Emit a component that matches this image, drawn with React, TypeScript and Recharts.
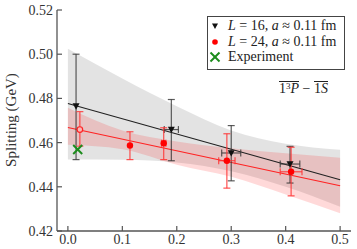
import React from "react";
import { ComposedChart, Area, Line, Scatter, ErrorBar, XAxis, YAxis, Legend, Label } from "recharts";

// fit bands (sampled at band x positions)
const bandX = [0, 0.1, 0.2, 0.3, 0.4, 0.5];
const grayLo = [0.4523, 0.4522, 0.451, 0.447, 0.44, 0.431];
const grayHi = [0.5025, 0.489, 0.4765, 0.4655, 0.4595, 0.4568];
const redLo = [0.459, 0.457, 0.45, 0.4445, 0.4365, 0.428];
const redHi = [0.4758, 0.4655, 0.4605, 0.4575, 0.4552, 0.4532];

// straight-line fits, end points
const fitX = [0, 0.5];
const fitL16 = [0.4777, 0.4432];
const fitL24 = [0.4668, 0.4405];

// L = 16 points
const l16X = [0.015, 0.19, 0.3, 0.408];
const l16Y = [0.4765, 0.4659, 0.4553, 0.4503];
const l16Dn = [0.0242, 0.0141, 0.0126, 0.0086];
const l16Up = [0.0235, 0.0136, 0.0124, 0.008];
const l16Xerr = [null, 0.013, 0.0175, 0.018];

// L = 24 points
const l24X = [0.022, 0.114, 0.176, 0.292, 0.41];
const l24Y = [0.4659, 0.4587, 0.4597, 0.4518, 0.4468];
const l24Dn = [0.0075, 0.0064, 0.0074, 0.0124, 0.0109];
const l24Up = [0.0081, 0.0062, 0.007, 0.0122, 0.0111];
const l24Xerr = [null, null, 0.004, 0.015, 0.02];

const expX = [0.018];
const expY = [0.4569];

const xTicks = [0, 0.1, 0.2, 0.3, 0.4, 0.5];
const yTicks = [0.42, 0.44, 0.46, 0.48, 0.5, 0.52];

const table = bandX.map((x, i) => {
  const k = fitX.indexOf(x);
  return {
    x,
    gray: [grayLo[i], grayHi[i]],
    red: [redLo[i], redHi[i]],
    f16: k >= 0 ? fitL16[k] : null,
    f24: k >= 0 ? fitL24[k] : null,
  };
});
const l16 = l16X.map((x, i) => ({ x, y: l16Y[i], ey: [l16Dn[i], l16Up[i]], ex: l16Xerr[i] ?? undefined }));
const l24 = l24X.map((x, i) => ({ x, y: l24Y[i], ey: [l24Dn[i], l24Up[i]], ex: l24Xerr[i] ?? undefined }));
const exp = expX.map((x, i) => ({ x, y: expY[i] }));

const serif = "Liberation Serif, serif";
const axisColor = "#555";
const txt = "#333";

const XTick = (p: any) => (
  <g>
    <line x1={p.x} y1={p.y} x2={p.x} y2={p.y - 5} stroke={axisColor} strokeWidth={1.2} />
    <text x={p.x} y={p.y + 13} textAnchor="middle" style={{ fontFamily: serif }} fontSize={14} fill={txt}>
      {p.payload.value.toFixed(1)}
    </text>
  </g>
);
const YTick = (p: any) => (
  <g>
    <line x1={p.x} y1={p.y} x2={p.x + 5} y2={p.y} stroke={axisColor} strokeWidth={1.2} />
    <text x={p.x - 4} y={p.y + 5} textAnchor="end" style={{ fontFamily: serif }} fontSize={14} fill={txt}>
      {p.payload.value.toFixed(2)}
    </text>
  </g>
);
const TopTick = (p: any) => <line x1={p.x} y1={p.y} x2={p.x} y2={p.y + 5} stroke={axisColor} strokeWidth={1.2} />;
const RightTick = (p: any) => <line x1={p.x} y1={p.y} x2={p.x - 5} y2={p.y} stroke={axisColor} strokeWidth={1.2} />;

const TriDown = ({ cx, cy, s = 3.5 }: any) => (
  <path d={`M${cx - s},${cy - s * 0.8}L${cx + s},${cy - s * 0.8}L${cx},${cy + s}Z`} fill="#111" />
);
const RedDot = (p: any) =>
  p.index === 0 ? (
    <circle cx={p.cx} cy={p.cy} r={2.8} fill="#f9b5b5" stroke="#f22" strokeWidth={1.2} />
  ) : (
    <circle cx={p.cx} cy={p.cy} r={3.2} fill="#f00" />
  );
const Cross = ({ cx, cy, s = 4.5 }: any) => (
  <g stroke="#1c8c1c" strokeWidth={2}>
    <line x1={cx - s} y1={cy - s} x2={cx + s} y2={cy + s} />
    <line x1={cx - s} y1={cy + s} x2={cx + s} y2={cy - s} />
  </g>
);

const rowStyle: React.CSSProperties = { position: "absolute", left: 0, height: 16, lineHeight: "16px", whiteSpace: "nowrap" };
const bar: React.CSSProperties = { display: "inline-block", borderTop: "1px solid #222", lineHeight: "11px", paddingTop: 1 };

function LegendBox() {
  return (
    <div style={{ position: "relative", width: 0, height: 0, fontFamily: serif, fontSize: 14, color: "#222" }}>
      <div style={{ position: "absolute", left: 207, top: 16, width: 136, height: 52, border: "1px solid #444", background: "#fff" }}>
        <div style={{ ...rowStyle, top: 1 }}>
          <svg width={20} height={16} style={{ verticalAlign: "top" }}><TriDown cx={7} cy={8} s={3} /></svg>
          <i>L</i> = 16, <i>a</i> ≈ 0.11 fm
        </div>
        <div style={{ ...rowStyle, top: 17 }}>
          <svg width={20} height={16} style={{ verticalAlign: "top" }}><circle cx={7} cy={8} r={2.8} fill="#f00" /></svg>
          <i>L</i> = 24, <i>a</i> ≈ 0.11 fm
        </div>
        <div style={{ ...rowStyle, top: 32 }}>
          <svg width={20} height={16} style={{ verticalAlign: "top" }}><Cross cx={7} cy={8} s={4.5} /></svg>
          Experiment
        </div>
      </div>
      <div style={{ position: "absolute", left: 279, top: 81, lineHeight: "12px", whiteSpace: "nowrap" }}>
        <span style={bar}>1<span style={{ fontSize: 9, position: "relative", top: -4 }}>3</span><i>P</i></span>
        <span style={{ display: "inline-block", lineHeight: "11px", paddingTop: 2 }}>&nbsp;−&nbsp;</span>
        <span style={bar}>1<i>S</i></span>
      </div>
    </div>
  );
}

export default function App() {
  return (
    <div style={{ position: "absolute", left: 0, top: 0 }}>
      <ComposedChart width={357} height={249} data={table} margin={{ top: 10, right: 6, bottom: 0, left: 0 }}>
        <XAxis dataKey="x" type="number" domain={[-0.02, 0.52]} ticks={xTicks} allowDataOverflow height={18}
          tickSize={0} tickMargin={0} tickLine={false} tick={<XTick />} axisLine={{ stroke: axisColor, strokeWidth: 1.3 }} />
        <XAxis xAxisId="top" orientation="top" dataKey="x" type="number" domain={[-0.02, 0.52]} ticks={xTicks} allowDataOverflow height={0}
          tickSize={0} tickMargin={0} tickLine={false} tick={<TopTick />} axisLine={{ stroke: axisColor, strokeWidth: 1.3 }} />
        <YAxis type="number" domain={[0.42, 0.52]} ticks={yTicks} allowDataOverflow width={57}
          tickSize={0} tickMargin={0} tickLine={false} tick={<YTick />} axisLine={{ stroke: axisColor, strokeWidth: 1.3 }}>
          <Label content={() => (
            <text x={11} y={120} transform="rotate(-90 11 120)" textAnchor="middle" dominantBaseline="central"
              style={{ fontFamily: serif }} fontSize={15} fill={txt}>Splitting (GeV)</text>
          )} />
        </YAxis>
        <YAxis yAxisId="right" orientation="right" type="number" domain={[0.42, 0.52]} ticks={yTicks} allowDataOverflow width={0}
          tickSize={0} tickMargin={0} tickLine={false} tick={<RightTick />} axisLine={{ stroke: axisColor, strokeWidth: 1.3 }} />

        <Area type="monotone" dataKey="gray" stroke="none" fill="#000" fillOpacity={0.11} isAnimationActive={false} />
        <Area type="monotone" dataKey="red" stroke="none" fill="#ff0000" fillOpacity={0.15} isAnimationActive={false} />
        <Line dataKey="f16" stroke="#222" strokeWidth={1.1} dot={false} connectNulls isAnimationActive={false} />
        <Line dataKey="f24" stroke="#f22" strokeWidth={1.1} dot={false} connectNulls isAnimationActive={false} />

        <Scatter data={l16} dataKey="y" shape={(p: any) => <TriDown cx={p.cx} cy={p.cy} />} isAnimationActive={false}>
          <ErrorBar dataKey="ey" direction="y" width={3.5} stroke="#333" strokeOpacity={0.8} strokeWidth={1.2} />
          <ErrorBar dataKey="ex" direction="x" width={3.5} stroke="#333" strokeOpacity={0.8} strokeWidth={1.2} />
        </Scatter>
        <Scatter data={l24} dataKey="y" shape={(p: any) => <RedDot {...p} />} isAnimationActive={false}>
          <ErrorBar dataKey="ey" direction="y" width={3.5} stroke="#f33" strokeOpacity={0.85} strokeWidth={1.2} />
          <ErrorBar dataKey="ex" direction="x" width={3.5} stroke="#f33" strokeOpacity={0.85} strokeWidth={1.2} />
        </Scatter>
        <Scatter data={exp} dataKey="y" shape={(p: any) => <Cross cx={p.cx} cy={p.cy} />} isAnimationActive={false} />

        <Legend content={() => <LegendBox />} wrapperStyle={{ left: 0, top: 0, width: 0, height: 0 }} />
      </ComposedChart>
    </div>
  );
}
